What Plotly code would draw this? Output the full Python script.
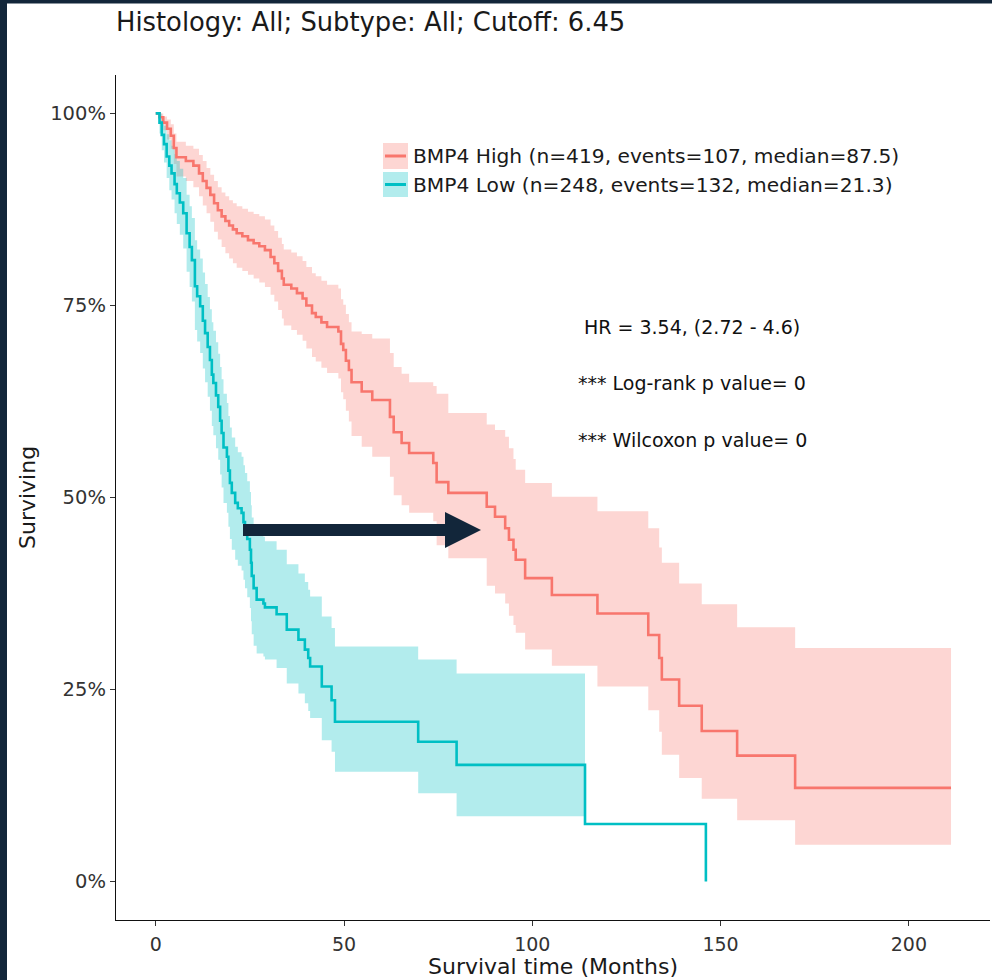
import plotly.graph_objects as go

# ---------------- data ----------------
# BMP4 High: step times (months), survival %, lower CI %, upper CI %
high_t = [0, 1, 2, 3, 4, 4.8, 5.5, 8, 10, 11.5, 12.5, 13.5, 14.5, 15.5, 16.5, 17.5, 18.5,
          19.5, 20.5, 21.5, 23, 24.5, 26, 27.5, 29, 30.5, 31.5, 32.5, 33.5, 34, 36, 37.5,
          39, 40, 41.5, 42.5, 44, 45.5, 48.5, 49.2, 49.8, 50.5, 51.3, 52, 54.7, 57.5,
          62.2, 63.2, 65.3, 67.3, 73.7, 74.6, 77.7, 87.9, 90.1, 92.8, 93.8, 95.0, 95.6,
          98.1, 105.2, 117.3, 130.8, 133.7, 134.4, 139.0, 145.0, 154.4, 169.8, 211.2]
high_s = [100, 99.5, 98.8, 98.0, 97.1, 95.5, 94.3, 93.8, 93.2, 92.2, 91.2, 90.3, 89.4, 88.3,
          87.4, 86.6, 86.0, 85.4, 84.9, 84.4, 84.0, 83.5, 83.1, 82.7, 82.2, 81.3, 80.5, 79.5,
          78.5, 77.7, 77.2, 76.6, 75.9, 75.0, 74.0, 73.5, 72.8, 72.2, 71.6, 70.0, 69.2, 67.8,
          66.6, 65.0, 63.8, 62.7, 60.5, 58.5, 57.1, 55.8, 54.5, 52.0, 50.6, 48.8, 47.5, 46.0,
          44.5, 43.2, 41.9, 39.5, 37.3, 34.9, 32.1, 29.1, 26.3, 22.9, 19.6, 16.4, 12.2, 12.2]
high_lo = [100, 98.8, 97.8, 96.6, 95.4, 93.4, 91.8, 91.2, 90.4, 89.2, 88.0, 87.0, 85.9, 84.6,
           83.6, 82.6, 81.8, 81.1, 80.5, 79.9, 79.5, 79.0, 78.5, 78.0, 77.4, 76.4, 75.5, 74.4,
           73.3, 72.4, 71.8, 71.2, 70.4, 69.4, 68.3, 67.7, 66.9, 66.2, 65.5, 63.7, 62.8, 61.3,
           59.9, 58.0, 56.6, 55.3, 52.7, 50.3, 49.0, 48.0, 46.9, 43.8, 42.1, 38.5, 37.5, 36.2,
           34.6, 33.4, 32.4, 30.2, 28.1, 25.4, 22.3, 19.5, 16.5, 13.5, 10.8, 8.0, 4.8, 4.8]
high_hi = [100, 100, 99.6, 99.2, 98.6, 97.4, 96.3, 95.8, 95.4, 94.6, 93.8, 92.9, 92.0, 91.2,
           90.4, 89.7, 89.2, 88.7, 88.3, 87.9, 87.6, 87.2, 86.9, 86.6, 86.2, 85.4, 84.7, 83.8,
           83.0, 82.3, 81.9, 81.4, 80.8, 80.0, 79.2, 78.8, 78.2, 77.7, 77.2, 75.8, 75.1, 73.9,
           72.8, 71.6, 71.3, 70.7, 68.8, 67.0, 66.1, 65.0, 64.5, 63.5, 61.0, 59.5, 58.8, 57.9,
           56.4, 55.0, 53.6, 51.9, 50.1, 48.2, 46.0, 43.5, 41.5, 38.8, 36.1, 33.1, 30.4, 30.4]

# BMP4 Low
low_t = [0, 1.0, 1.6, 2.2, 2.9, 3.6, 4.2, 5.0, 5.6, 6.4, 7.3, 8.2, 9.0, 9.6, 10.4, 11.0, 11.8,
         12.5, 13.1, 13.8, 14.4, 14.9, 15.3, 16.0, 16.6, 17.1, 17.5, 18.0, 18.9, 19.3, 19.7,
         20.2, 21.1, 21.8, 22.8, 23.3, 23.7, 24.3, 25.0, 25.3, 25.5, 26.0, 26.8, 28.6, 29.0,
         32.1, 34.8, 37.9, 39.6, 40.5, 41.0, 44.1, 46.7, 47.6, 69.7, 79.9, 114.0, 146.1]
low_s = [100, 98.8, 97.2, 96.0, 94.4, 93.2, 92.2, 90.8, 89.6, 88.4, 87.0, 84.4, 82.6, 80.9,
         77.5, 76.2, 74.9, 73.0, 71.4, 69.6, 67.9, 66.0, 64.9, 63.3, 61.8, 60.0, 58.4, 56.5,
         55.3, 53.5, 51.9, 50.6, 49.3, 48.6, 48.0, 46.8, 45.8, 44.6, 43.2, 41.5, 39.8, 38.2,
         36.7, 36.2, 35.7, 34.8, 32.8, 31.5, 30.2, 29.1, 28.0, 25.4, 23.6, 20.8, 18.2, 15.2,
         7.5, 0.0]
low_lo = [100, 97.4, 95.2, 93.6, 91.6, 90.0, 88.8, 87.0, 85.6, 84.2, 82.4, 79.4, 77.4, 75.5,
          71.8, 70.3, 68.8, 66.8, 65.0, 63.1, 61.3, 59.3, 58.1, 56.4, 54.9, 53.0, 51.3, 49.3,
          48.0, 46.2, 44.6, 43.2, 41.9, 41.1, 40.5, 39.3, 38.2, 37.0, 35.6, 33.9, 32.2, 30.7,
          29.7, 29.3, 28.9, 27.8, 25.8, 24.5, 23.2, 22.2, 21.3, 18.4, 16.9, 14.3, 11.5, 8.5,
          8.5, None]
low_hi = [100, 100, 99.2, 98.4, 97.3, 96.5, 95.8, 94.7, 93.8, 92.8, 91.6, 89.4, 87.9, 86.4,
          83.5, 82.3, 81.1, 79.3, 77.8, 76.1, 74.5, 72.8, 71.7, 70.2, 68.7, 67.0, 65.4, 63.5,
          62.3, 60.6, 59.1, 57.8, 56.6, 55.9, 55.3, 54.2, 53.2, 52.1, 50.7, 49.0, 47.4, 45.9,
          45.5, 44.9, 44.3, 43.2, 41.3, 40.1, 39.0, 38.0, 37.1, 34.5, 33.0, 30.6, 28.9, 27.1,
          27.1, None]

x_ticks = [0, 50, 100, 150, 200]
y_ticks = [0, 25, 50, 75, 100]
y_tick_text = ["0%", "25%", "50%", "75%", "100%"]

title_text = "Histology: All; Subtype: All; Cutoff: 6.45"
legend_labels = ["BMP4 High (n=419, events=107, median=87.5)",
                 "BMP4 Low (n=248, events=132, median=21.3)"]
stats_text = ["HR = 3.54, (2.72 - 4.6)", "*** Log-rank p value= 0", "*** Wilcoxon p value= 0"]

RED = "#F8766D"
TEAL = "#00BFC4"
RED_FILL = "rgba(248,118,109,0.3)"
TEAL_FILL = "rgba(0,191,196,0.3)"
NAVY = "#12263a"
FONT = "DejaVu Sans"

W, H = 992, 980
ML, MR, MT, MB = 116, 2, 75, 60
PW, PH = W - ML - MR, H - MT - MB


def px(xp):
    return (xp - ML) / PW


def py(yp):
    return (H - MB - yp) / PH


fig = go.Figure()


def band(t, lo, hi, fill):
    fig.add_trace(go.Scatter(x=t, y=lo, mode="lines", line=dict(width=0, shape="hv"),
                             hoverinfo="skip", showlegend=False, connectgaps=False))
    fig.add_trace(go.Scatter(x=t, y=hi, mode="lines", line=dict(width=0, shape="hv"),
                             fill="tonexty", fillcolor=fill, hoverinfo="skip",
                             showlegend=False, connectgaps=False))


band(high_t, high_lo, high_hi, RED_FILL)
band(low_t, low_lo, low_hi, TEAL_FILL)

fig.add_trace(go.Scatter(x=high_t, y=high_s, mode="lines",
                         line=dict(color=RED, width=2.6, shape="hv"), showlegend=False))
fig.add_trace(go.Scatter(x=low_t, y=low_s, mode="lines",
                         line=dict(color=TEAL, width=2.6, shape="hv"), showlegend=False))

shapes = []
# dark frame strips (left and top edges of the screenshot)
shapes.append(dict(type="rect", xref="paper", yref="paper", x0=-0.3, x1=px(7), y0=-0.2, y1=1.3,
                   fillcolor=NAVY, line=dict(width=0), layer="above"))
shapes.append(dict(type="rect", xref="paper", yref="paper", x0=-0.3, x1=px(W), y0=py(3.5), y1=1.3,
                   fillcolor=NAVY, line=dict(width=0), layer="above"))

# manual legend keys
key_rows = [(143, 169, RED_FILL, RED), (172, 197, TEAL_FILL, TEAL)]
for (top, bot, fc, lc) in key_rows:
    shapes.append(dict(type="rect", xref="paper", yref="paper", x0=px(383), x1=px(408),
                       y0=py(bot), y1=py(top), fillcolor=fc, line=dict(width=0)))
    ym = py((top + bot) / 2)
    shapes.append(dict(type="line", xref="paper", yref="paper", x0=px(385), x1=px(406),
                       y0=ym, y1=ym, line=dict(color=lc, width=3)))

# arrow
ARROW_Y = 530
shapes.append(dict(type="line", xref="paper", yref="paper", x0=px(243), x1=px(448),
                   y0=py(ARROW_Y), y1=py(ARROW_Y), line=dict(color=NAVY, width=12)))
shapes.append(dict(type="path", xref="paper", yref="paper",
                   path=f"M {px(445)},{py(512)} L {px(481)},{py(ARROW_Y)} L {px(445)},{py(548)} Z",
                   fillcolor=NAVY, line=dict(width=0)))

annotations = []
for lab, (top, bot, _, _) in zip(legend_labels, key_rows):
    annotations.append(dict(text=lab, xref="paper", yref="paper", x=px(411), y=py((top + bot) / 2),
                            xanchor="left", yanchor="middle", showarrow=False,
                            font=dict(family=FONT, size=20.2, color="#1a1a1a")))
for txt, yy in zip(stats_text, [327, 383, 440]):
    annotations.append(dict(text=txt, xref="paper", yref="paper", x=px(692), y=py(yy),
                            xanchor="center", yanchor="middle", showarrow=False,
                            font=dict(family=FONT, size=19, color="#111")))
# axis titles
annotations.append(dict(text="Survival time (Months)", xref="paper", yref="paper",
                        x=px(553), y=py(966), xanchor="center", yanchor="middle",
                        showarrow=False, font=dict(family=FONT, size=22, color="#1a1a1a")))
annotations.append(dict(text="Surviving", xref="paper", yref="paper",
                        x=px(27), y=py(498), xanchor="center", yanchor="middle", textangle=-90,
                        showarrow=False, font=dict(family=FONT, size=22, color="#1a1a1a")))

fig.update_layout(
    width=W, height=H,
    margin=dict(l=ML, r=MR, t=MT, b=MB),
    paper_bgcolor="white", plot_bgcolor="white",
    title=dict(text=title_text, x=ML / W, xref="container", xanchor="left",
               y=1 - 22 / H, yref="container", yanchor="middle",
               font=dict(family=FONT, size=25.8, color="#1a1a1a")),
    showlegend=False,
    shapes=shapes,
    annotations=annotations,
    xaxis=dict(range=[-10.55, 221.55], tickvals=x_ticks, showgrid=False, zeroline=False,
               showline=True, linecolor="#111", linewidth=1.3, ticks="outside", ticklen=5,
               tickcolor="#333", tickwidth=1.2, ticklabelstandoff=2,
               tickfont=dict(family=FONT, size=19, color="#333")),
    yaxis=dict(range=[-5, 105], tickvals=y_ticks, ticktext=y_tick_text, showgrid=False,
               zeroline=False, showline=True, linecolor="#111", linewidth=1.3,
               ticks="outside", ticklen=5, tickcolor="#333", tickwidth=1.2,
               tickfont=dict(family=FONT, size=19.5, color="#333")),
)

fig.write_html("out.html", config={"displayModeBar": False},
               post_script="document.body.style.margin='0';document.body.style.overflow='hidden';")
